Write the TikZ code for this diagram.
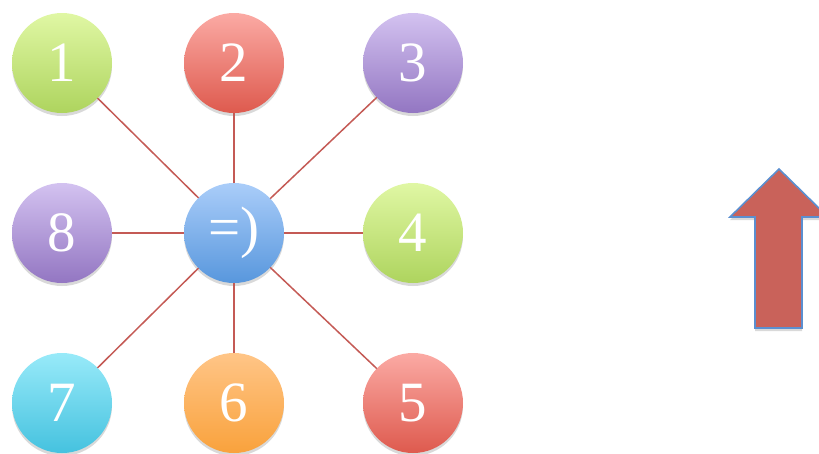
\documentclass[tikz,border=0pt]{standalone}
\usepackage{fontspec}
\setmainfont{Liberation Serif}
\usetikzlibrary{shadows}
\definecolor{greentop}{HTML}{E0F7A4}
\definecolor{greenbot}{HTML}{AED45E}
\definecolor{redtop}{HTML}{FBAAA4}
\definecolor{redbot}{HTML}{DE5A4E}
\definecolor{purpletop}{HTML}{D3C2F0}
\definecolor{purplebot}{HTML}{9376C2}
\definecolor{bluetop}{HTML}{AACDF9}
\definecolor{bluebot}{HTML}{5897DD}
\definecolor{cyantop}{HTML}{98EAF9}
\definecolor{cyanbot}{HTML}{45C2DF}
\definecolor{orangetop}{HTML}{FFC587}
\definecolor{orangebot}{HTML}{F9A23C}
\definecolor{spokered}{HTML}{C45A55}
\definecolor{arrowfill}{HTML}{C9625A}
\definecolor{arrowline}{HTML}{5B8FD0}

\begin{document}
\begin{tikzpicture}[x=1pt,y=-1pt,inner sep=0in,outer sep=0in,
  ball/.style={circle, minimum size=100pt, text=white, font=\fontsize{57}{57}\selectfont,
    drop shadow={shadow xshift=0pt, shadow yshift=-3pt, opacity=0.3}},
  spoke/.style={draw=spokered, line width=1.5pt}]
	\useasboundingbox (0,0) rectangle (819,453);
	\node[ball, top color=greentop, bottom color=greenbot] at (62,63) (n1) {1};
	\node[ball, top color=redtop, bottom color=redbot] at (234,63) (n2) {2};
	\node[ball, top color=purpletop, bottom color=purplebot] at (413,63) (n3) {3};
	\node[ball, top color=greentop, bottom color=greenbot] at (413,233) (n4) {4};
	\node[ball, top color=redtop, bottom color=redbot] at (413,403) (n5) {5};
	\node[ball, top color=orangetop, bottom color=orangebot] at (234,403) (n6) {6};
	\node[ball, top color=cyantop, bottom color=cyanbot] at (62,403) (n7) {7};
	\node[ball, top color=purpletop, bottom color=purplebot] at (62,233) (n8) {8};
	\node[ball, top color=bluetop, bottom color=bluebot] at (234,233) (c) {=)};

	\draw[spoke] (c)--(n1);
	\draw[spoke] (c)--(n2);
	\draw[spoke] (c)--(n3);
	\draw[spoke] (c)--(n4);
	\draw[spoke] (c)--(n5);
	\draw[spoke] (c)--(n6);
	\draw[spoke] (c)--(n7);
	\draw[spoke] (c)--(n8);

	\clip (0,0) rectangle (819,453);
	\draw[fill=arrowfill, draw=arrowline, line width=1.6pt, line join=miter,
	  drop shadow={shadow xshift=0pt, shadow yshift=-3pt, opacity=0.3}]
	  (779,169) -- (730,217) -- (755,217) -- (755,328) -- (802,328) -- (802,217) -- (828,217) -- cycle;
\end{tikzpicture}
\end{document}
